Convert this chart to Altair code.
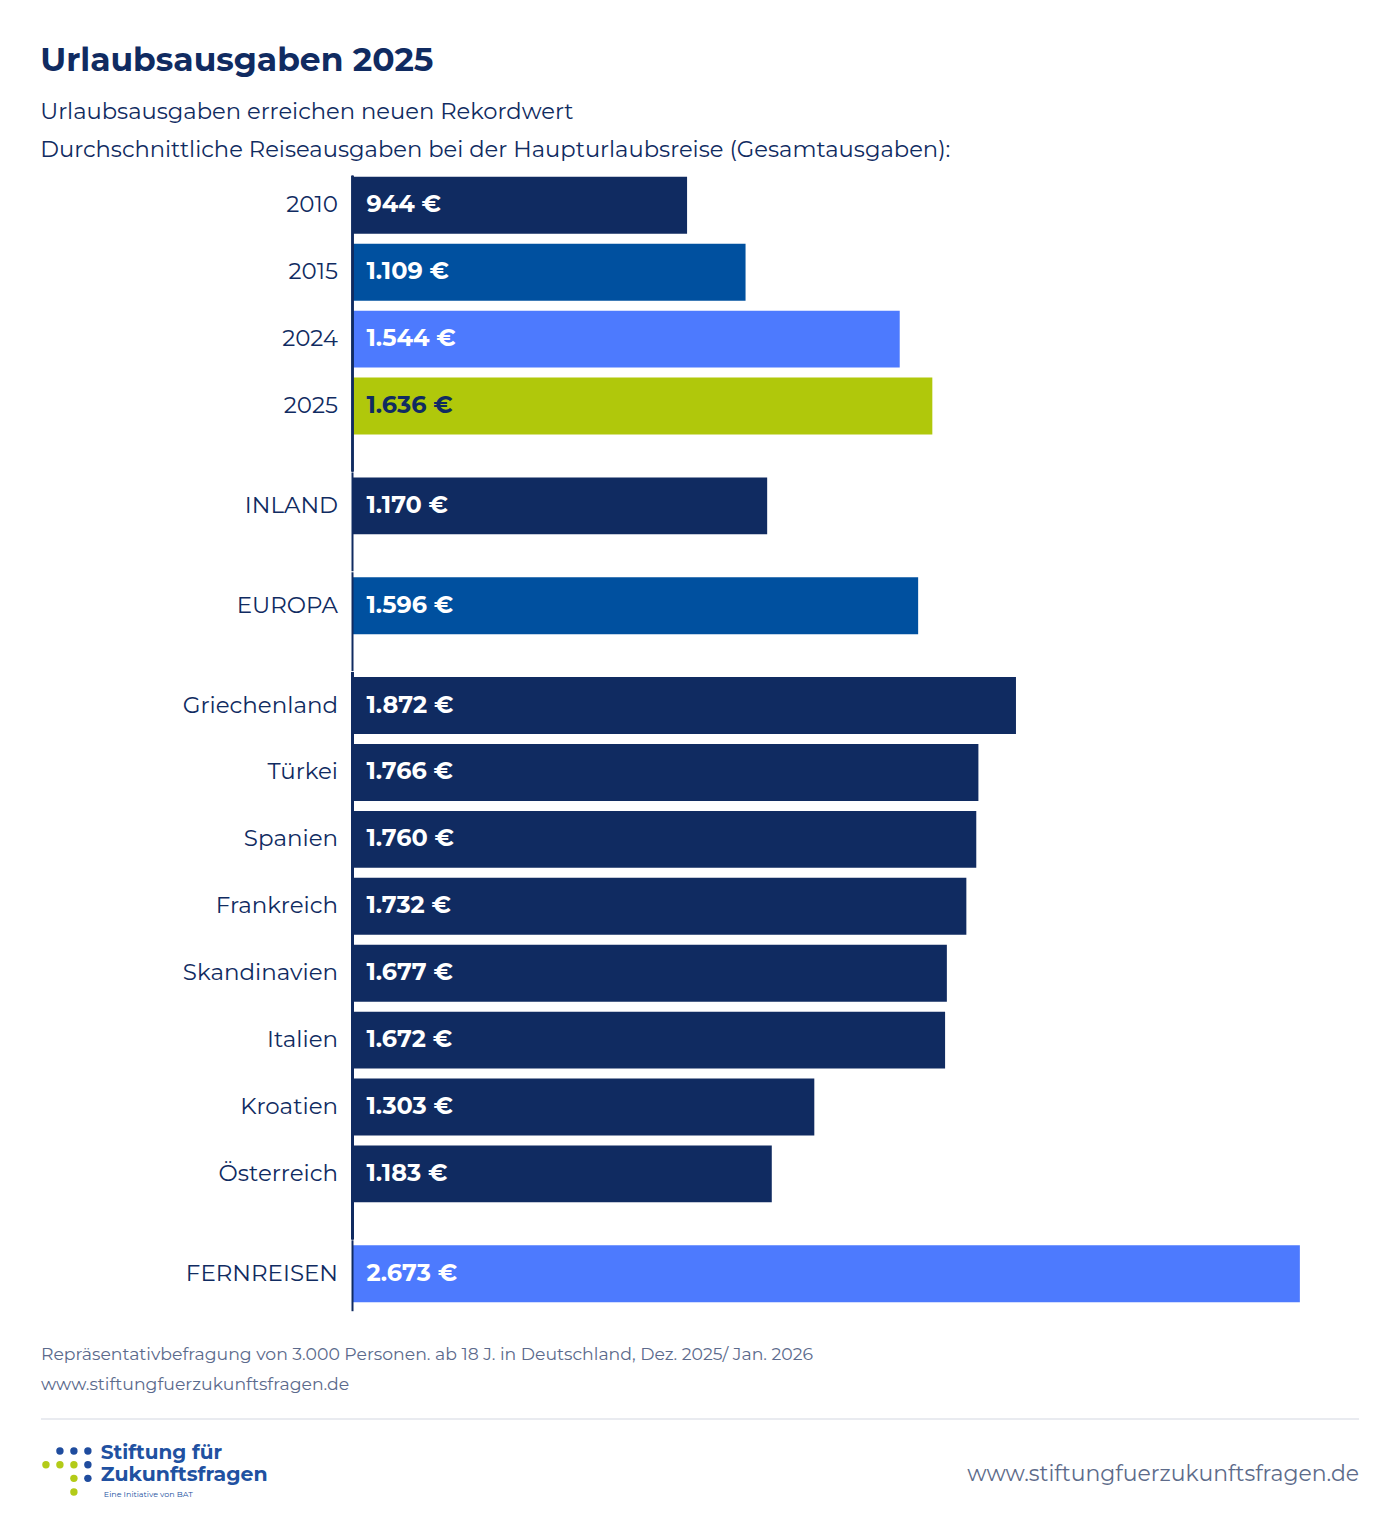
"""Urlaubsausgaben 2025 - horizontal bar chart with grouped rows."""

import pandas as pd
import altair as alt

# --- data -----------------------------------------------------------------
labels = ["2010", "2015", "2024", "2025", "INLAND", "EUROPA",
          "Griechenland", "Türkei", "Spanien", "Frankreich", "Skandinavien",
          "Italien", "Kroatien", "Österreich", "FERNREISEN"]
values = [944, 1109, 1544, 1636, 1170, 1596,
          1872, 1766, 1760, 1732, 1677, 1672, 1303, 1183, 2673]
groups = [1, 1, 1, 1, 2, 3, 4, 4, 4, 4, 4, 4, 4, 4, 5]
bar_colors = ["#102b61", "#00509f", "#4d7afe", "#b0c80b", "#102b61", "#00509f",
              "#102b61", "#102b61", "#102b61", "#102b61", "#102b61",
              "#102b61", "#102b61", "#102b61", "#4d7afe"]
text_colors = ["#ffffff", "#ffffff", "#ffffff", "#102b61", "#ffffff", "#ffffff",
               "#ffffff", "#ffffff", "#ffffff", "#ffffff", "#ffffff",
               "#ffffff", "#ffffff", "#ffffff", "#ffffff"]

source_text = "Repräsentativbefragung von 3.000 Personen. ab 18 J. in Deutschland, Dez. 2025/ Jan. 2026"
web_text = "www.stiftungfuerzukunftsfragen.de"

NAVY = "#102b61"
FONT = "Montserrat, Inter, sans-serif"
STEP = 67
GAP = 32
PLOT_W = 1008
AXIS_W = 312

df = pd.DataFrame({"label": labels, "value": values, "group": groups,
                   "bar_color": bar_colors, "text_color": text_colors})
df["text"] = df["value"].map(lambda v: f"{v:,}".replace(",", ".") + " €")


def group_chart(g, top_ext, bottom_ext):
    sub = df[df["group"] == g]
    h = STEP * len(sub)
    base = alt.Chart(sub)
    y = alt.Y("label:N", sort=None, title=None,
              scale=alt.Scale(paddingInner=10 / STEP, paddingOuter=5 / STEP),
              axis=alt.Axis(domain=False, ticks=False, labelPadding=15,
                            labelFontSize=23, labelColor=NAVY, labelFont=FONT,
                            labelLimit=300))
    x = alt.X("value:Q", axis=None,
              scale=alt.Scale(domain=[0, 2840], nice=False))
    bars = base.mark_bar(cornerRadius=0).encode(
        x=x, y=y, color=alt.Color("bar_color:N", scale=None))
    text = base.mark_text(align="left", baseline="middle", dx=14, font=FONT,
                          fontSize=24, fontWeight="bold").encode(
        x=alt.datum(0), y=y, text="text:N",
        color=alt.Color("text_color:N", scale=None))
    # axis line, stretched over the gap below so it reads as one line
    axis_line = base.mark_rule(color=NAVY, strokeWidth=2).encode(
        x=alt.value(0), y=alt.value(top_ext), y2=alt.value(h + bottom_ext))
    return alt.layer(bars, text, axis_line).properties(width=PLOT_W, height=h)


charts = [
    group_chart(1, 4, GAP),
    group_chart(2, 0, GAP),
    group_chart(3, 0, GAP),
    group_chart(4, 0, GAP),
    group_chart(5, 0, 4),
]

# --- footer (x relative to the plot origin, which sits AXIS_W right of the left edge)
FH = 195
LEFT = -AXIS_W


def footer_text(t, x, y, size, color, weight="normal", align="left"):
    return alt.Chart(pd.DataFrame({"t": [t]})).mark_text(
        align=align, baseline="middle", font=FONT, fontSize=size,
        color=color, fontWeight=weight).encode(
        text="t:N", x=alt.value(x), y=alt.value(y))


dot_cols = [2, 3, 4, 1, 2, 3, 4, 3, 4, 3]
dot_rows = [1, 1, 1, 2, 2, 2, 2, 3, 3, 4]
dot_cols_c = ["#1f4c9e", "#1f4c9e", "#1f4c9e", "#b3cb18", "#b3cb18", "#b3cb18",
              "#1f4c9e", "#b3cb18", "#1f4c9e", "#b3cb18"]
dots_df = pd.DataFrame({"c": dot_cols, "r": dot_rows, "col": dot_cols_c})
dots_df["px"] = LEFT + 5 + (dots_df["c"] - 1) * 14
dots_df["py"] = 139 + (dots_df["r"] - 1) * 13.7
dots = alt.Chart(dots_df).mark_circle(size=55, opacity=1).encode(
    x=alt.X("px:Q", scale=None), y=alt.Y("py:Q", scale=None),
    color=alt.Color("col:N", scale=None))

sep = alt.Chart(pd.DataFrame({"a": [0]})).mark_rule(
    color="#e2e5eb", strokeWidth=1.5).encode(
    x=alt.value(LEFT), x2=alt.value(PLOT_W), y=alt.value(107))

footer = alt.layer(
    footer_text(source_text, LEFT, 43, 17.3, "#5b6a8c"),
    footer_text(web_text, LEFT, 73, 17.3, "#5b6a8c"),
    sep,
    dots,
    footer_text("Stiftung für", LEFT + 60, 141, 20, "#2151a1", "bold"),
    footer_text("Zukunftsfragen", LEFT + 60, 163, 20.5, "#2151a1", "bold"),
    footer_text("Eine Initiative von BAT", LEFT + 63, 183, 8, "#2151a1"),
    footer_text(web_text, PLOT_W, 162, 22, "#5d6b8a", align="right"),
).properties(width=PLOT_W, height=FH)

# negative spacing cancels the rule's half stroke so the axis line runs unbroken
chart = alt.vconcat(*charts, footer, spacing=-3).properties(
    title=alt.TitleParams(
        text="Urlaubsausgaben 2025",
        subtitle=["Urlaubsausgaben erreichen neuen Rekordwert",
                  "Durchschnittliche Reiseausgaben bei der Haupturlaubsreise (Gesamtausgaben):"],
        anchor="start", font=FONT, fontSize=33, fontWeight="bold", color=NAVY,
        subtitleFont=FONT, subtitleFontSize=22.7, subtitleColor=NAVY,
        subtitleLineHeight=38, subtitlePadding=23, offset=10),
    padding={"left": 32, "top": 36, "right": 32, "bottom": 5},
    background="white",
).configure_view(stroke=None, strokeWidth=0)

chart.save("out.html", embed_options={"renderer": "svg", "actions": False})
